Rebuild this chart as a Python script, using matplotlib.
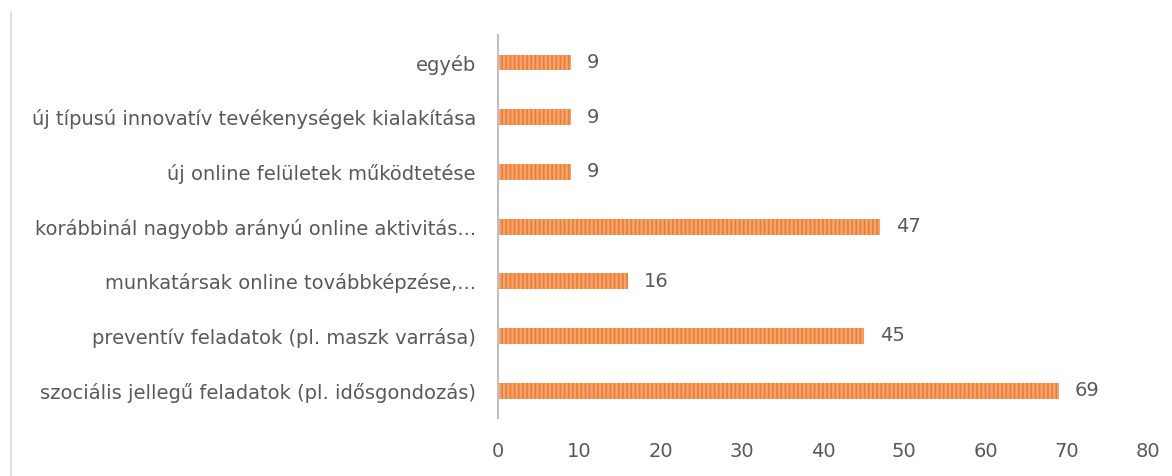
import matplotlib
matplotlib.use("Agg")
import matplotlib.pyplot as plt
from matplotlib.lines import Line2D

categories = [
    "szociális jellegű feladatok (pl. idősgondozás)",
    "preventív feladatok (pl. maszk varrása)",
    "munkatársak online továbbképzése,...",
    "korábbinál nagyobb arányú online aktivitás...",
    "új online felületek működtetése",
    "új típusú innovatív tevékenységek kialakítása",
    "egyéb",
]
values = [69, 45, 16, 47, 9, 9, 9]
xticks = [0, 10, 20, 30, 40, 50, 60, 70, 80]

plt.rcParams['font.family'] = ['DejaVu Sans']
plt.rcParams['hatch.linewidth'] = 1.2
text_color = '#595959'
fs = 14

fig = plt.figure(figsize=(11.72, 4.76), dpi=100)
ax = fig.add_axes([0.425, 0.122, 0.5546, 0.804])

y = list(range(len(categories)))
ax.barh(y, values, height=0.29, color='#F4A46E', edgecolor='#ED7D31',
        hatch='||||', linewidth=0)

for yi, v in zip(y, values):
    ax.annotate(str(v), xy=(v, yi), xytext=(11.5, 0), textcoords='offset points',
                va='center', ha='left', fontsize=fs, color=text_color)

ax.set_xlim(0, 80)
ax.set_ylim(-0.5, len(categories) - 0.5)
ax.set_xticks(xticks)
ax.set_xticklabels([str(t) for t in xticks])
ax.set_yticks(y)
ax.set_yticklabels(categories)
ax.tick_params(axis='both', length=0, labelsize=fs, colors=text_color)
ax.tick_params(axis='x', pad=17)
ax.tick_params(axis='y', pad=16)
for s in ['top', 'right', 'bottom']:
    ax.spines[s].set_visible(False)
ax.spines['left'].set_color('#BFBFBF')
ax.spines['left'].set_linewidth(1.5)

fig.add_artist(Line2D([10.5/1172, 10.5/1172], [0, 1 - 12/476], color='#D9D9D9', lw=1.2,
                      transform=fig.transFigure))

fig.savefig('out.png', dpi=100)
